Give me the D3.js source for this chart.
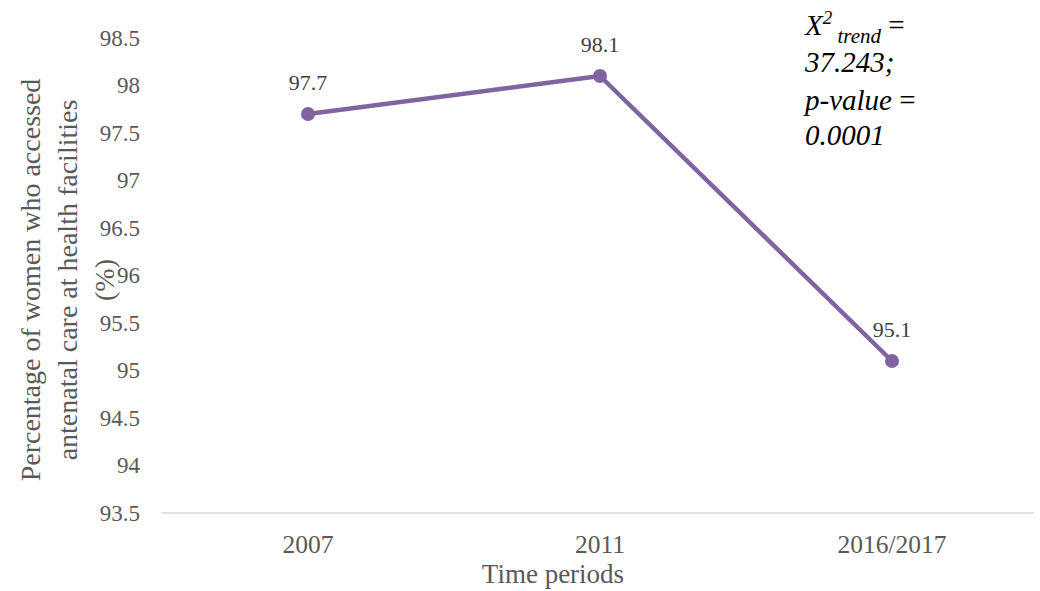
<!DOCTYPE html>
<html>
<head>
<meta charset="utf-8">
<script src="https://cdn.jsdelivr.net/npm/d3@7"></script>
<style>
  html, body { margin: 0; padding: 0; background: #fff; }
  svg text { font-family: "Liberation Serif", "Times New Roman", serif; }
</style>
</head>
<body>
<svg id="chart" width="1040" height="591"></svg>
<script>
// Antenatal care access at health facilities, by survey period
const periods = ["2007", "2011", "2016/2017"];
const percentages = [97.7, 98.1, 95.1];
const yTicks = [93.5, 94, 94.5, 95, 95.5, 96, 96.5, 97, 97.5, 98, 98.5];
const yTitleLines = ["Percentage of women who accessed", "antenatal care at health facilities", "(%)"];
const xTitle = "Time periods";

const SERIF = "Liberation Serif";
const svg = d3.select("#chart");
const margin = { left: 162, right: 2, top: 38, bottom: 78 };
const W = 1040, H = 591;

const x = d3.scaleBand().domain(periods).range([margin.left, W - margin.right]);
const y = d3.scaleLinear().domain([93.5, 98.5]).range([H - margin.bottom, margin.top]);
const cx = d => x(d) + x.bandwidth() / 2;

// baseline
svg.append("line")
  .attr("x1", margin.left).attr("x2", W - margin.right - 4)
  .attr("y1", y(93.5)).attr("y2", y(93.5))
  .attr("stroke", "#d9d9d9").attr("stroke-width", 1.3);

// y axis labels
const yAxis = d3.axisLeft(y).tickValues(yTicks).tickSize(0).tickPadding(0)
  .tickFormat(d => d3.format("")(d));
const gy = svg.append("g").attr("transform", `translate(${margin.left - 22},0)`).call(yAxis);
gy.attr("font-family", SERIF);
gy.select(".domain").remove();
gy.selectAll("text").attr("font-size", 23).attr("fill", "#595959")
  .attr("font-family", SERIF);

// x axis labels
const xAxis = d3.axisBottom(x).tickSize(0).tickPadding(0);
const gx = svg.append("g").attr("transform", `translate(0,${y(93.5) + 22})`).call(xAxis);
gx.attr("font-family", SERIF);
gx.select(".domain").remove();
gx.selectAll("text").attr("font-size", 25.5).attr("fill", "#595959")
  .attr("font-family", SERIF);

// line and markers
const line = d3.line().x((d, i) => cx(periods[i])).y(d => y(d));
svg.append("path").datum(percentages)
  .attr("d", line).attr("fill", "none")
  .attr("stroke", "#8064a2").attr("stroke-width", 4.5)
  .attr("stroke-linejoin", "round");
svg.selectAll("circle.pt").data(percentages).join("circle")
  .attr("class", "pt")
  .attr("cx", (d, i) => cx(periods[i])).attr("cy", d => y(d)).attr("r", 7)
  .attr("fill", "#8064a2");

// value labels
svg.selectAll("text.val").data(percentages).join("text")
  .attr("class", "val")
  .attr("x", (d, i) => cx(periods[i])).attr("y", d => y(d) - 24)
  .attr("text-anchor", "middle").attr("font-size", 22).attr("fill", "#404040")
  .attr("font-family", SERIF)
  .text(d => d3.format(".1f")(d));

// x title
svg.append("text")
  .attr("x", 553).attr("y", 583)
  .attr("text-anchor", "middle").attr("font-size", 27).attr("fill", "#595959")
  .attr("font-family", SERIF)
  .text(xTitle);

// y title (rotated, three lines)
const yt = svg.append("text")
  .attr("transform", "translate(30,280) rotate(-90)")
  .attr("text-anchor", "middle").attr("font-size", 28).attr("fill", "#595959")
  .attr("font-family", SERIF);
yTitleLines.forEach((t, i) => {
  yt.append("tspan").attr("x", 0).attr("dy", i === 0 ? 10 : 37).text(t);
});

// trend test annotation
const ann = svg.append("text")
  .attr("x", 805).attr("y", 35)
  .attr("font-size", 29).attr("font-style", "italic").attr("fill", "#000")
  .attr("font-family", SERIF);
ann.append("tspan").text("X");
ann.append("tspan").attr("font-size", 19).attr("dy", -11).text("2");
ann.append("tspan").attr("font-size", 21).attr("dy", 19).text(" trend");
ann.append("tspan").attr("font-style", "normal").attr("font-size", 29).attr("dy", -8).text(" =");
ann.append("tspan").attr("x", 805).attr("y", 72).text("37.243;");
ann.append("tspan").attr("x", 805).attr("y", 110).text("p-value ");
ann.append("tspan").attr("font-style", "normal").text("=");
ann.append("tspan").attr("x", 805).attr("y", 145).text("0.0001");
</script>
</body>
</html>
